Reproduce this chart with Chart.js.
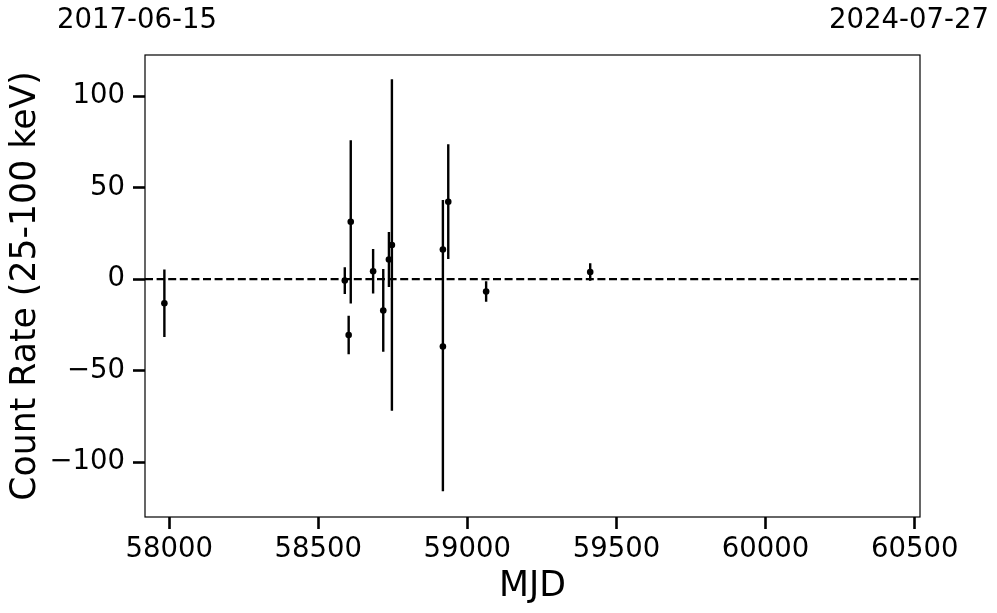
<!DOCTYPE html>
<html>
<head>
<meta charset="utf-8">
<script src="https://cdn.jsdelivr.net/npm/chart.js@4.4.0/dist/chart.umd.min.js"></script>
<style>
  html, body { margin: 0; padding: 0; background: #fff; }
  #wrap { width: 997px; height: 613px; position: relative; }
</style>
</head>
<body>
<div id="wrap"><canvas id="lc"></canvas></div>
<script>
// ================= Data =================
const mjd  = [57984, 58589, 58602, 58609, 58684, 58718, 58737, 58747, 58918, 58918, 58936, 59063, 59412];
const rate = [-13.2, -0.8, -30.5, 31.3, 4.3, -17.1, 10.7, 18.6, 16.2, -36.8, 42.3, -6.8, 3.9];
const err  = [18.4, 7.3, 10.5, 44.6, 12.1, 22.6, 15.0, 90.5, 27.0, 79.0, 31.3, 5.6, 4.8];

const xTicks = [58000, 58500, 59000, 59500, 60000, 60500];
const yTicks = [-100, -50, 0, 50, 100];
const xRange = [57919, 60518];
const yRange = [-129.9, 122.4];
const dateLabels = ["2017-06-15", "2024-07-27"];

const FONT = "'DejaVu Sans', sans-serif";

// ================= Datasets =================
const points = mjd.map((x, i) => ({ x: x, y: rate[i] }));

// each error bar is a two-point segment, separated by a gap
const errBars = [];
mjd.forEach((x, i) => {
    errBars.push({ x: x, y: rate[i] - err[i] });
    errBars.push({ x: x, y: rate[i] + err[i] });
    errBars.push({ x: x, y: null });
});

const zeroLine = [{ x: xRange[0], y: 0 }, { x: xRange[1], y: 0 }];

// ================= Plugins =================
const frame = {
    id: "frame",
    afterDraw(chart) {
        const { ctx, chartArea: a } = chart;
        ctx.save();
        ctx.strokeStyle = "#000";
        ctx.lineWidth = 1.2;
        ctx.strokeRect(a.left, a.top, a.right - a.left, a.bottom - a.top);

        ctx.fillStyle = "#000";
        ctx.font = "27.5px " + FONT;
        ctx.textAlign = "center";
        ctx.textBaseline = "middle";
        ctx.fillText(dateLabels[0], a.left - 8, 21);
        ctx.fillText(dateLabels[1], a.right - 11, 21);
        ctx.restore();
    }
};

const minus = v => String(v).replace("-", "\u2212");

// ================= Chart =================
new Chart(document.getElementById("lc"), {
    type: "scatter",
    data: {
        datasets: [
            {
                data: zeroLine,
                showLine: true,
                borderColor: "#000",
                borderWidth: 2.2,
                borderDash: [8, 3.6],
                pointRadius: 0,
                order: 3
            },
            {
                data: errBars,
                showLine: true,
                spanGaps: false,
                borderColor: "#000",
                borderWidth: 2.4,
                pointRadius: 0,
                order: 2
            },
            {
                data: points,
                backgroundColor: "#000",
                borderColor: "#000",
                pointRadius: 3.3,
                borderWidth: 0,
                order: 1
            }
        ]
    },
    options: {
        responsive: true,
        maintainAspectRatio: false,
        animation: false,
        layout: { padding: { top: 55, right: 77, left: 0, bottom: 0 } },
        plugins: {
            legend: { display: false },
            tooltip: { enabled: false }
        },
        scales: {
            x: {
                type: "linear",
                min: xRange[0],
                max: xRange[1],
                afterBuildTicks: s => { s.ticks = xTicks.map(v => ({ value: v })); },
                afterFit: s => { s.height = 96; },
                border: { display: false },
                grid: {
                    drawOnChartArea: false,
                    drawTicks: true,
                    tickLength: 12,
                    tickWidth: 2.6,
                    tickColor: "#000"
                },
                ticks: {
                    color: "#000",
                    padding: 4,
                    maxRotation: 0,
                    font: { family: FONT, size: 27.5 },
                    callback: v => String(v)
                },
                title: {
                    display: true,
                    text: "MJD",
                    color: "#000",
                    font: { family: FONT, size: 34.7 },
                    padding: { top: 0, bottom: 5 }
                }
            },
            y: {
                type: "linear",
                min: yRange[0],
                max: yRange[1],
                afterBuildTicks: s => { s.ticks = yTicks.map(v => ({ value: v })); },
                afterFit: s => { s.width = 145; },
                border: { display: false },
                grid: {
                    drawOnChartArea: false,
                    drawTicks: true,
                    tickLength: 12,
                    tickWidth: 2.6,
                    tickColor: "#000"
                },
                ticks: {
                    color: "#000",
                    padding: 8,
                    font: { family: FONT, size: 27.5 },
                    callback: v => minus(v)
                },
                title: {
                    display: true,
                    text: "Count Rate (25-100 keV)",
                    color: "#000",
                    font: { family: FONT, size: 34.7 },
                    padding: { top: 5, bottom: 0 }
                }
            }
        }
    },
    plugins: [frame]
});
</script>
</body>
</html>
